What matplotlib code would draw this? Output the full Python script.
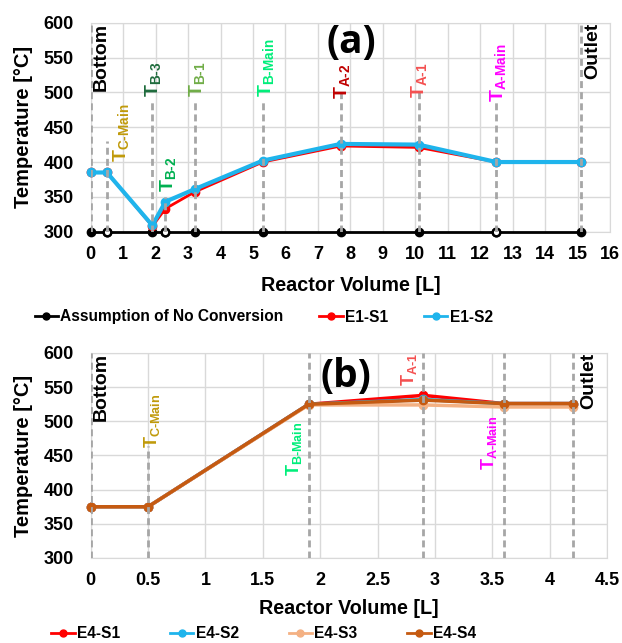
import matplotlib.pyplot as plt
from matplotlib.lines import Line2D

plt.rcParams['font.family'] = ['Liberation Sans', 'DejaVu Sans']
plt.rcParams['font.weight'] = 'bold'
plt.rcParams['mathtext.fontset'] = 'custom'
plt.rcParams['mathtext.rm'] = 'Liberation Sans:bold'
plt.rcParams['mathtext.it'] = 'Liberation Sans:bold'
plt.rcParams['mathtext.bf'] = 'Liberation Sans:bold'

# ---- (a) E1 runs ----
vol_a = [0, 0.5, 1.9, 2.3, 3.2, 5.3, 7.7, 10.1, 12.5, 15.1]
no_conv = [300, 300, 300, 300, 300, 300, 300, 300, 300, 300]
e1_s1 = [385, 385, 308, 333, 357, 400, 423, 421, 400, 400]
e1_s2 = [385, 385, 309, 343, 361, 402, 426, 425, 400, 400]
open_marks = [0.5, 2.3, 12.5]

# ---- (b) E4 runs ----
vol_b = [0, 0.5, 1.9, 2.9, 3.6, 4.2]
e4_s1 = [375, 375, 525, 538, 526, 526]
e4_s2 = [375, 375, 525, 532, 526, 526]
e4_s3 = [375, 375, 524, 524, 521, 521]
e4_s4 = [375, 375, 525, 531, 526, 526]

# thermocouple names
tc_a = ['C-Main', 'B-3', 'B-2', 'B-1', 'B-Main', 'A-2', 'A-1', 'A-Main']
tc_b = ['C-Main', 'B-Main', 'A-1', 'A-Main']

tc_colors = {'C-Main': '#C09A0A', 'B-3': '#1E6B3C', 'B-2': '#00B050',
             'B-1': '#70AD47', 'B-Main': '#00EE7A', 'A-2': '#C00000',
             'A-1': '#F45050', 'A-Main': '#FF00FF'}

RED = '#FF0000'
BLUE = '#1FB4EC'
PEACH = '#F4B183'
BROWN = '#C55A11'
DASH = '#A6A6A6'
GRID = '#D9D9D9'


def tlabel(name):
    return r'$\mathrm{T}_{\text{' + name + '}}$'


def style(ax, xmax, xstep, xpad):
    ax.set_ylim(300, 600)
    ax.set_xlim(0, xmax)
    ax.set_yticks(range(300, 601, 50))
    ticks = [i * xstep for i in range(int(round(xmax / xstep)) + 1)]
    ax.set_xticks(ticks)
    ax.set_xticklabels(['%g' % t for t in ticks])
    ax.grid(True, color=GRID, lw=1)
    ax.set_axisbelow(True)
    for s in ax.spines.values():
        s.set_color(GRID)
    ax.tick_params(length=0, labelsize=13)
    ax.tick_params(axis='x', pad=10)
    ax.tick_params(axis='y', pad=12)
    ax.set_xlabel('Reactor Volume [L]', fontsize=14.2, fontweight='bold', labelpad=xpad)
    ax.set_ylabel('Temperature [°C]', fontsize=14.5, fontweight='bold', labelpad=8)


fig = plt.figure(figsize=(6.22, 6.43), dpi=100)
ax1 = fig.add_axes([90.7 / 622, 1 - 231.7 / 643, 519.3 / 622, 209 / 643])
ax2 = fig.add_axes([90.7 / 622, 1 - 558 / 643, 516.3 / 622, 205 / 643])

# ---------- panel (a) ----------
style(ax1, 16, 1, 10)
dash_top_a = [600, 430, 490, 350, 490, 490, 500, 500, 487, 600]
for x, top in zip(vol_a, dash_top_a):
    ax1.plot([x, x], [300, top], color=DASH, lw=2, ls=(0, (2.5, 1.5)), zorder=6)

ax1.plot(vol_a, no_conv, color='black', lw=2, marker='o', ms=6, clip_on=False, zorder=3)
ax1.plot(open_marks, [300] * len(open_marks), ls='none', marker='o', ms=5.5,
         mfc='white', mec='black', mew=1.8, clip_on=False, zorder=4)
ax1.plot(vol_a, e1_s1, color=RED, lw=2, marker='o', ms=6, clip_on=False, zorder=4)
ax1.plot(vol_a, e1_s2, color=BLUE, lw=3, marker='o', ms=6, clip_on=False, zorder=5)

lab_pos_a = [(0.93, 400), (1.92, 493), (2.38, 357), (3.26, 493),
             (5.4, 493), (7.75, 490), (10.13, 492), (12.56, 486)]
for name, (x, y) in zip(tc_a, lab_pos_a):
    ax1.text(x, y, tlabel(name), rotation=90, ha='center', va='bottom',
             fontsize=14, color=tc_colors[name], zorder=7)
ax1.text(0.32, 600, 'Bottom', rotation=90, ha='center', va='top', fontsize=14,
         fontweight='bold', zorder=7)
ax1.text(15.46, 600, 'Outlet', rotation=90, ha='center', va='top', fontsize=14,
         fontweight='bold', zorder=7)
ax1.text(8.03, 571, '(a)', ha='center', va='center', fontsize=28,
         fontweight='bold', family=['Open Sans', 'DejaVu Sans'], zorder=7)

h_a = [Line2D([], [], color='black', lw=2, marker='o', ms=5),
       Line2D([], [], color=RED, lw=2, marker='o', ms=5),
       Line2D([], [], color=BLUE, lw=2, marker='o', ms=5)]
fig.legend(h_a, ['Assumption of No Conversion', 'E1-S1', 'E1-S2'],
           loc='center', bbox_to_anchor=(0.424, 1 - 317 / 643), ncol=3,
           frameon=False, fontsize=11.2, handlelength=1.5, handletextpad=0.15,
           columnspacing=2.3, borderpad=0)

# ---------- panel (b) ----------
style(ax2, 4.5, 0.5, 7)
dash_top_b = [600, 464, 600, 600, 600, 600]
for x, top in zip(vol_b, dash_top_b):
    ax2.plot([x, x], [300, top], color=DASH, lw=2, ls=(0, (2.5, 1.5)), zorder=6)

ax2.plot(vol_b, e4_s1, color=RED, lw=2.5, marker='o', ms=6, clip_on=False, zorder=3)
ax2.plot(vol_b, e4_s2, color=BLUE, lw=2.5, marker='o', ms=6, clip_on=False, zorder=3)
ax2.plot(vol_b, e4_s3, color=PEACH, lw=2.5, marker='o', ms=6, clip_on=False, zorder=4)
ax2.plot(vol_b, e4_s4, color=BROWN, lw=2.5, marker='o', ms=6, clip_on=False, zorder=5)

lab_pos_b = [(0.53, 461), (1.77, 420), (2.77, 551), (3.47, 429)]
for name, (x, y) in zip(tc_b, lab_pos_b):
    ax2.text(x, y, tlabel(name), rotation=90, ha='center', va='bottom',
             fontsize=13, color=tc_colors[name], zorder=7)
ax2.text(0.09, 600, 'Bottom', rotation=90, ha='center', va='top', fontsize=14,
         fontweight='bold', zorder=7)
ax2.text(4.34, 600, 'Outlet', rotation=90, ha='center', va='top', fontsize=14,
         fontweight='bold', zorder=7)
ax2.text(2.22, 565, '(b)', ha='center', va='center', fontsize=28,
         fontweight='bold', family=['Open Sans', 'DejaVu Sans'], zorder=7)

h_b = [Line2D([], [], color=c, lw=2, marker='o', ms=5)
       for c in (RED, BLUE, PEACH, BROWN)]
fig.legend(h_b, ['E4-S1', 'E4-S2', 'E4-S3', 'E4-S4'],
           loc='center', bbox_to_anchor=(0.424, 1 - 634 / 643), ncol=4,
           frameon=False, fontsize=11.2, handlelength=1.5, handletextpad=0.15,
           columnspacing=3.2, borderpad=0)

fig.savefig('out.png', dpi=100)
